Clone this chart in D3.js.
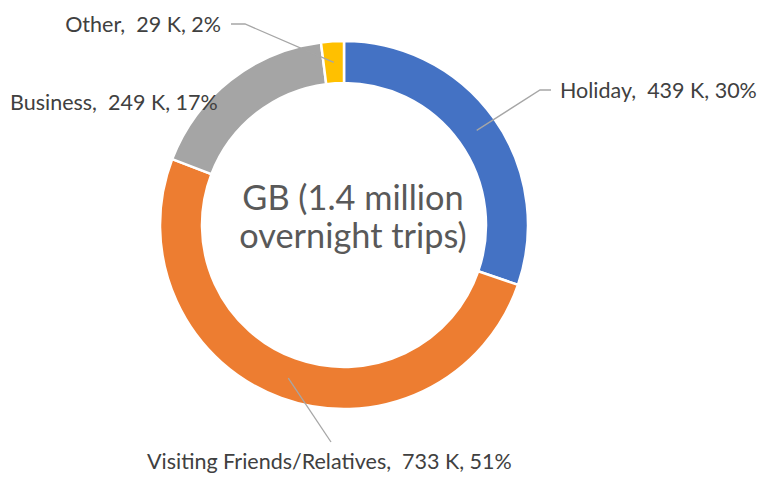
<!DOCTYPE html>
<html>
<head>
<meta charset="utf-8">
<script src="https://cdn.jsdelivr.net/npm/d3@7"></script>
<style>
  body { margin: 0; background: #fff; }
  text { font-family: Lato, "Open Sans", sans-serif; }
</style>
</head>
<body>
<div id="chart"></div>
<script>
const categories = ["Holiday", "Visiting Friends/Relatives", "Business", "Other"];
const values = [439, 733, 249, 29]; // thousands of trips
const colors = ["#4472C4", "#ED7D31", "#A5A5A5", "#FFC000"];
const centerLines = ["GB (1.4 million", "overnight trips)"];

const width = 763;
const height = 479;
const cx = 344, cy = 225;
const outerR = 184, innerR = 142;
const midR = (outerR + innerR) / 2;

// label placement (relative to chart centre): elbow, line end, text anchor
const labelLayout = [
    { elbow: [196, -135], end: [207, -135], text: [216, -127], anchor: "start" },
    { elbow: null, end: [-13, 217], text: [-197, 244], anchor: "start" },
    { elbow: null, end: null, text: [-334, -115], anchor: "start" },
    { elbow: [-99, -201], end: [-113, -201], text: [-123, -193], anchor: "end" }
];

const total = d3.sum(values);
const pct = d3.format(".0%");

const svg = d3.select("#chart")
    .append("svg")
    .attr("width", width)
    .attr("height", height);

const g = svg.append("g")
    .attr("transform", `translate(${cx},${cy})`);

const pie = d3.pie().sort(null).value(d => d);
const arcs = pie(values);

const arc = d3.arc().innerRadius(innerR).outerRadius(outerR);

g.selectAll(".slice")
    .data(arcs)
    .enter()
    .append("path")
    .attr("class", "slice")
    .attr("d", arc)
    .attr("fill", (d, i) => colors[i])
    .attr("stroke", "#fff")
    .attr("stroke-width", 2.5);

const midPoint = d => {
    const a = (d.startAngle + d.endAngle) / 2;
    return [midR * Math.sin(a), -midR * Math.cos(a)];
};

arcs.forEach((d, i) => {
    const lay = labelLayout[i];
    if (lay.end) {
        const pts = [midPoint(d)];
        if (lay.elbow) pts.push(lay.elbow);
        pts.push(lay.end);
        g.append("path")
            .attr("d", d3.line()(pts))
            .attr("fill", "none")
            .attr("stroke", "#A6A6A6")
            .attr("stroke-width", 1.3);
    }
    g.append("text")
        .attr("x", lay.text[0])
        .attr("y", lay.text[1])
        .attr("text-anchor", lay.anchor)
        .attr("fill", "#404040")
        .attr("font-size", 21.5)
        .attr("xml:space", "preserve")
        .style("white-space", "pre")
        .text(`${categories[i]},  ${values[i]} K, ${pct(values[i] / total)}`);
});

g.selectAll(".center")
    .data(centerLines)
    .enter()
    .append("text")
    .attr("class", "center")
    .attr("x", 9)
    .attr("y", (d, i) => -15 + i * 38)
    .attr("text-anchor", "middle")
    .attr("fill", "#595959")
    .attr("font-size", 34.3)
    .text(d => d);
</script>
</body>
</html>
